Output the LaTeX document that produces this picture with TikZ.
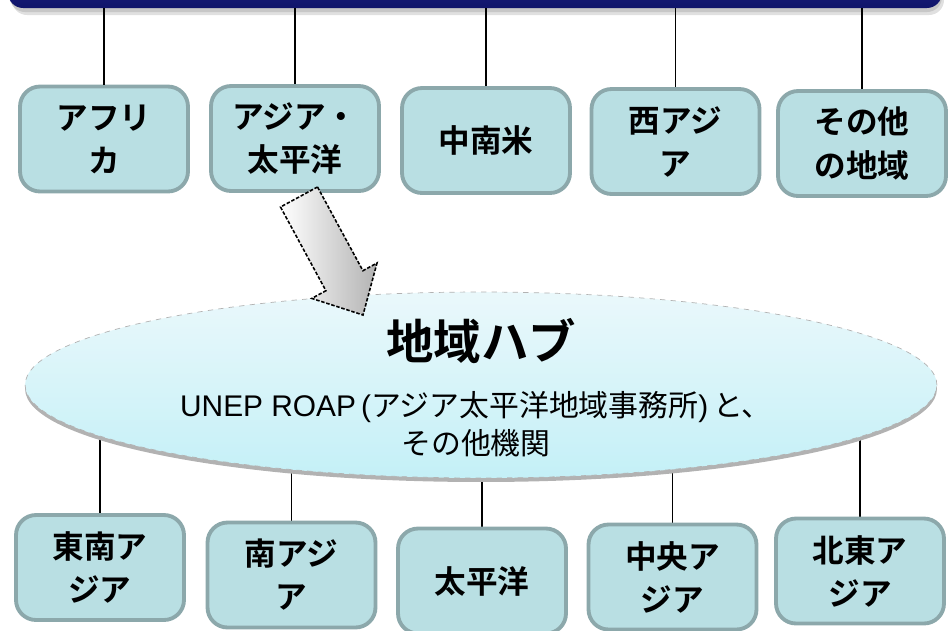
\documentclass[tikz,border=0pt]{standalone}
\usepackage{fontspec}
\newfontfamily\jp{Noto Sans CJK JP}[BoldFont={* Bold}]
\newfontfamily\lat{Liberation Sans}
\usetikzlibrary{shapes.geometric,backgrounds}
\definecolor{boxfill}{HTML}{B9DFE3}
\definecolor{boxline}{HTML}{8CA8AB}
\definecolor{navytop}{HTML}{1E2488}
\definecolor{navybot}{HTML}{10146A}
\definecolor{hubtop}{HTML}{EAF8FB}
\definecolor{hubbot}{HTML}{C4F0F7}
\begin{document}
\begin{tikzpicture}[x=0.02cm,y=-0.02cm,
  region/.style={draw=boxline, fill=boxfill, line width=2.2pt, rounded corners=0.4cm,
    minimum width=3.36cm, minimum height=2.1cm, align=center, inner sep=0pt,
    font=\jp\bfseries\fontsize{18}{24.5}\selectfont},
  link/.style={line width=1.1pt, black},
  hubshape/.style={ellipse, minimum width=18.24cm, minimum height=3.72cm, inner sep=0pt},
  barshape/.style={rounded corners=0.3cm, minimum width=18.68cm, minimum height=0.76cm, inner sep=0pt}]
\useasboundingbox (0,0) rectangle (949,630);

% top bar with shadow
\fill[black!12] (12,-30) [rounded corners=0.3cm] rectangle (944,15);
\fill[black!22] (10,-30) [rounded corners=0.3cm] rectangle (942,12);
\node[barshape, top color=navytop, bottom color=navybot] (bar) at (475,-11) {};

% top regions
\node[region] (t1) at (104,139) {アフリ\\カ};
\node[region] (t2) at (295,138.5) {アジア・\\太平洋};
\node[region] (t3) at (486,140.5) {中南米};
\node[region] (t4) at (675.5,141.5) {西アジ\\ア};
\node[region] (t5) at (862,143.5) {その他\\の地域};

\foreach \n in {t1,t2,t3,t4,t5}
  \draw[link] (\n.north) -- (\n.north |- bar.south);

% hub ellipse with shadow
\node[hubshape, fill=black!30] (hubshadow) at (481,389) {};
\node[hubshape, top color=hubtop, bottom color=hubbot, draw=black!30, dashed, thin] (hub) at (481,385) {};

\node[font=\jp\bfseries\fontsize{27}{32}\selectfont] (title) at (481,341) {地域ハブ};
\node[align=center, font=\fontsize{17}{22}\selectfont] (sub) at (476,424)
  {{\lat UNEP ROAP\,(}{\jp アジア太平洋地域事務所}{\lat )\,}{\jp と、}\\{\jp その他機関}};

% bottom regions
\node[region] (b1) at (100,567.5) {東南ア\\ジア};
\node[region] (b2) at (291.5,575) {南アジ\\ア};
\node[region] (b3) at (482,581) {太平洋};
\node[region] (b4) at (672.5,577) {中央ア\\ジア};
\node[region] (b5) at (860,571) {北東ア\\ジア};

\begin{pgfonlayer}{background}
\foreach \n in {b1,b2,b3,b4,b5}
  \draw[link] (\n.north) -- (\n.north |- hub.center);
\end{pgfonlayer}

% block arrow from Asia-Pacific to hub
\shade[left color=white, right color=black!30, draw=black, line width=0.9pt,
  dash pattern=on 2pt off 1pt]
  (317.5,187) -- (362.9,270.7) -- (377,263) -- (363,315) -- (311.8,298.4)
  -- (325.9,290.7) -- (280.5,207) -- cycle;
\end{tikzpicture}
\end{document}
